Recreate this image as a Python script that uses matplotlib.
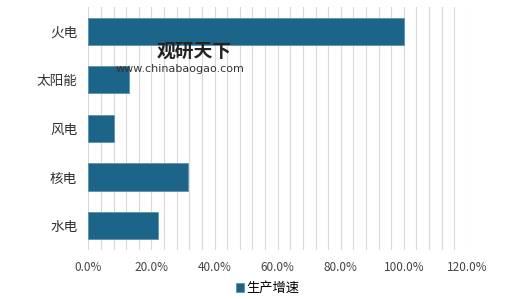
import matplotlib
matplotlib.use("Agg")
import matplotlib.pyplot as plt
from matplotlib.ticker import MultipleLocator, FuncFormatter
import numpy as np

plt.rcParams['font.family'] = ['Noto Sans CJK SC', 'DejaVu Sans']

categories = ['火电', '太阳能', '风电', '核电', '水电']
values = [99.9, 12.8, 8.2, 31.7, 22.2]
series_name = '生产增速'
bar_color = '#1c6588'

fig = plt.figure(figsize=(5.2, 2.99), dpi=100)
ax = fig.add_axes([0.170, 0.164, 0.728, 0.813])

y = np.arange(len(categories))
ax.barh(y, values, height=0.56, color=bar_color, edgecolor='#5d93ad', linewidth=0.6,
        label=series_name, zorder=3)
ax.set_yticks(y)
ax.set_yticklabels(categories, fontsize=9.8, color='#333333')
ax.invert_yaxis()
ax.set_ylim(4.5, -0.5)
ax.set_xlim(0, 120)
ax.set_xticks(np.arange(0, 121, 20))
ax.xaxis.set_major_formatter(FuncFormatter(lambda v, p: f'{v:.1f}%'))
ax.xaxis.set_minor_locator(MultipleLocator(4))
ax.grid(True, axis='x', which='both', color='#d9d9d9', linewidth=0.8, zorder=0)
for s in ax.spines.values():
    s.set_visible(False)
ax.tick_params(axis='both', which='both', length=0)
ax.tick_params(axis='x', labelsize=8.5, colors='#444444', pad=8)
ax.tick_params(axis='y', pad=8)

fig.text(0.302, 0.830, '观研天下', fontsize=13.5, fontweight='bold', color='#222222', va='center')
fig.text(0.223, 0.770, 'www.chinabaogao.com', fontsize=8, color='#333333', va='center',
         family='DejaVu Sans')

leg = fig.legend(loc='center', bbox_to_anchor=(0.515, 0.035), frameon=False, fontsize=9.5,
                 handlelength=0.6, handleheight=0.6, handletextpad=0.2)

fig.savefig('out.png', dpi=100)
